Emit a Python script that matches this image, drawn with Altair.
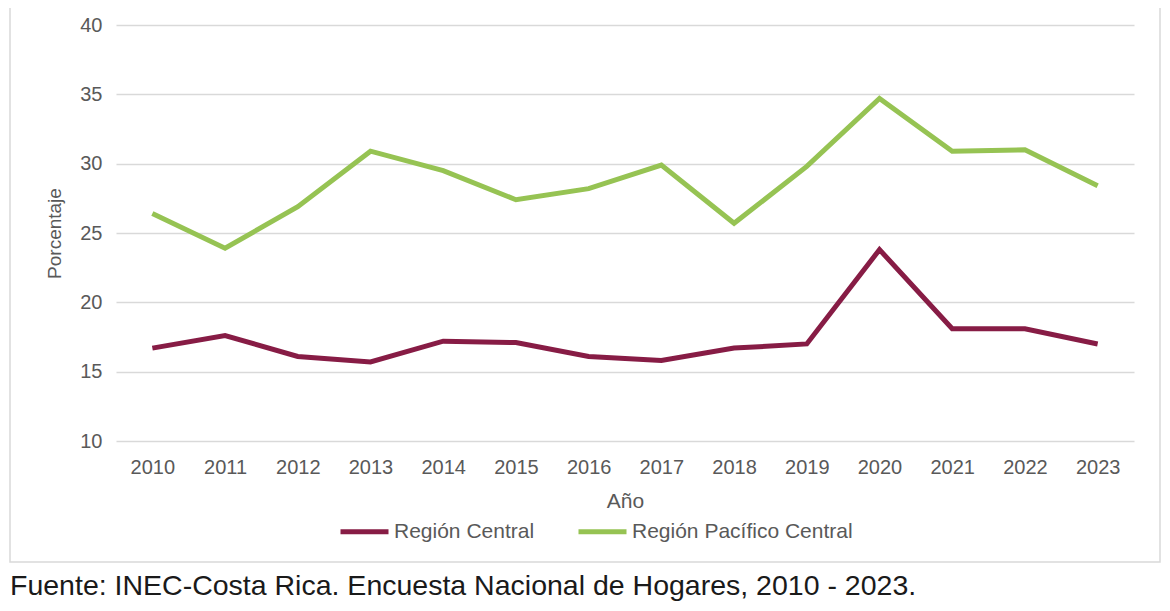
import altair as alt
import pandas as pd

years = [str(y) for y in range(2010, 2024)]
central = [16.7, 17.6, 16.1, 15.7, 17.2, 17.1, 16.1, 15.8, 16.7, 17.0, 23.8, 18.1, 18.1, 17.0]
pacifico = [26.4, 23.9, 26.9, 30.9, 29.5, 27.4, 28.2, 29.9, 25.7, 29.8, 34.7, 30.9, 31.0, 28.4]
series_names = ["Región Central", "Región Pacífico Central"]
colors = ["#871C45", "#96C353"]
source_text = "Fuente: INEC-Costa Rica. Encuesta Nacional de Hogares, 2010 - 2023."

rows = []
for i, y in enumerate(years):
    rows.append({"Año": y, "Serie": series_names[0], "Porcentaje": central[i]})
    rows.append({"Año": y, "Serie": series_names[1], "Porcentaje": pacifico[i]})
df = pd.DataFrame(rows)

FONT = "Liberation Sans"
W, H = 1018, 416

lines = alt.Chart(df).mark_line(strokeWidth=5, strokeJoin="miter").encode(
    x=alt.X("Año:O", sort=years, scale=alt.Scale(type="point", padding=0.5),
            axis=alt.Axis(labelAngle=0, ticks=False, domain=False, grid=False,
                          labelPadding=16, labelFontSize=20, labelColor="#595959",
                          titleFontSize=21, titleColor="#595959", titleFontWeight="normal",
                          titlePadding=13, labelFont=FONT, titleFont=FONT)),
    y=alt.Y("Porcentaje:Q", scale=alt.Scale(domain=[10, 40], nice=False),
            axis=alt.Axis(values=[10, 15, 20, 25, 30, 35, 40], ticks=False, domain=False,
                          gridColor="#D9D9D9", gridWidth=1.3, labelPadding=14,
                          labelFontSize=20, labelColor="#595959", titleFontSize=19,
                          titleColor="#595959", titleFontWeight="normal", titlePadding=15,
                          labelFont=FONT, titleFont=FONT)),
    color=alt.Color("Serie:N", sort=series_names,
                    scale=alt.Scale(domain=series_names, range=colors),
                    legend=alt.Legend(orient="none", legendX=222, legendY=480,
                                      direction="horizontal", title=None,
                                      symbolType="stroke", symbolSize=2304,
                                      symbolStrokeWidth=5, labelFontSize=21,
                                      labelColor="#595959", labelFont=FONT,
                                      labelLimit=0,
                                      labelOffset=3, columnPadding=33)),
)

frame_df = pd.DataFrame({"k": [0]})
frame = alt.Chart(frame_df).mark_rect(fill=None, stroke="#D9D9D9", strokeWidth=1.5).encode(
    x=alt.value(-106), x2=alt.value(1044), y=alt.value(-25), y2=alt.value(537)
)

src_df = pd.DataFrame({"t": [source_text]})
source = alt.Chart(src_df).mark_text(align="left", baseline="middle", fontSize=28.5,
                                     font=FONT, color="#1A1A1A").encode(
    text="t:N", x=alt.value(-106), y=alt.value(561)
)

chart = alt.layer(frame, lines, source).properties(
    width=W, height=H,
    autosize=alt.AutoSizeParams(type="none"),
    padding={"left": 108, "top": 17, "right": 28, "bottom": 162},
).configure_view(stroke=None)

chart.save("out.html", embed_options={"renderer": "svg", "actions": False})
